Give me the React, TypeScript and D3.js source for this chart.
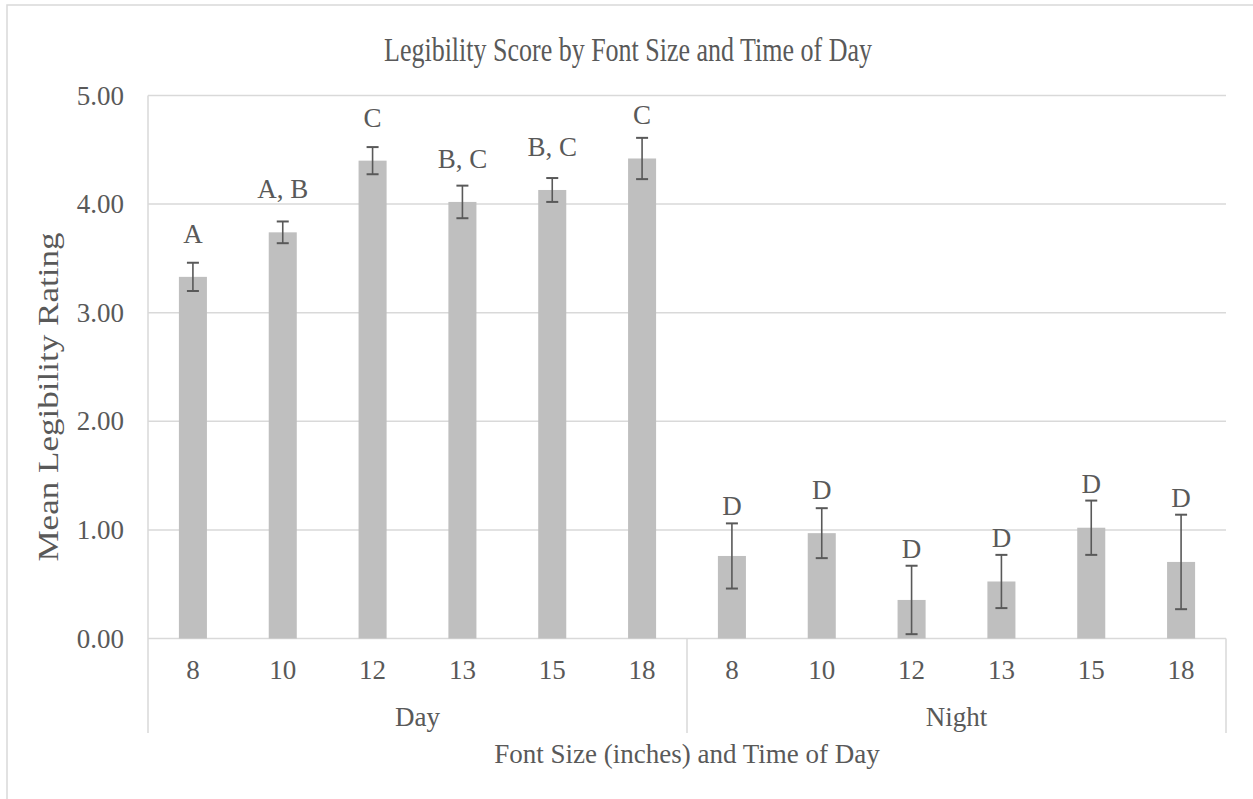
import React from "react";
import * as d3 from "d3";

// Mean legibility rating per font size, split by time of day
const timesOfDay = ["Day", "Night"];
const fontSizes = ["8", "10", "12", "13", "15", "18"];
const dayMeans = [3.33, 3.74, 4.4, 4.02, 4.13, 4.42];
const dayErrors = [0.13, 0.1, 0.125, 0.15, 0.11, 0.19];
const nightMeans = [0.76, 0.97, 0.355, 0.525, 1.02, 0.705];
const nightErrors = [0.3, 0.23, 0.315, 0.245, 0.25, 0.435];
const dayLetters = ["A", "A, B", "C", "B, C", "B, C", "C"];
const nightLetters = ["D", "D", "D", "D", "D", "D"];
const yTicks = [0, 1, 2, 3, 4, 5];

const W = 1253;
const H = 799;
const plot = { left: 148, right: 1226, top: 95.5, bottom: 638.5 };
const axisBottom = 733;

const FONT = "'Liberation Serif', 'Times New Roman', serif";
const TEXT = "#595959";
const GRID = "#d9d9d9";
const BAR = "#bfbfbf";
const ERR = "#595959";

type Row = { key: string; group: string; size: string; mean: number; err: number; letter: string };

const rows: Row[] = [];
timesOfDay.forEach((g, gi) => {
  const means = gi === 0 ? dayMeans : nightMeans;
  const errs = gi === 0 ? dayErrors : nightErrors;
  const letters = gi === 0 ? dayLetters : nightLetters;
  fontSizes.forEach((s, i) => {
    rows.push({ key: `${g}-${s}`, group: g, size: s, mean: means[i], err: errs[i], letter: letters[i] });
  });
});

export default function App() {
  const x = d3
    .scaleBand<string>()
    .domain(rows.map((r) => r.key))
    .range([plot.left, plot.right])
    .paddingInner(0.688)
    .paddingOuter(0.344);
  const y = d3.scaleLinear().domain([0, 5]).range([plot.bottom, plot.top]);
  const fmt = d3.format(".2f");
  const bw = x.bandwidth();
  const step = x.step();
  const groupWidth = step * fontSizes.length;

  return (
    <svg
      width={W}
      height={H}
      style={{ position: "absolute", left: 0, top: 0, background: "#fff" }}
      fontFamily={FONT}
    >
      <rect x={7} y={5} width={1260} height={810} fill="#fff" stroke={GRID} strokeWidth={1.5} />

      <text
        transform="translate(628, 61) scale(1, 1.27)"
        textAnchor="middle"
        fontSize={26}
        fill={TEXT}
      >
        Legibility Score by Font Size and Time of Day
      </text>

      {/* gridlines and value axis labels */}
      {yTicks.map((t) => (
        <g key={t}>
          <line x1={plot.left} x2={plot.right} y1={y(t)} y2={y(t)} stroke={GRID} strokeWidth={1.5} />
          <text x={124} y={y(t) + 9} textAnchor="end" fontSize={27} fill={TEXT}>
            {fmt(t)}
          </text>
        </g>
      ))}

      {/* left axis line and group separators */}
      <line x1={plot.left} x2={plot.left} y1={plot.top} y2={axisBottom} stroke={GRID} strokeWidth={1.5} />
      {timesOfDay.map((g, gi) => {
        const xr = plot.left + groupWidth * (gi + 1);
        return (
          <g key={g}>
            <line x1={xr} x2={xr} y1={plot.bottom} y2={axisBottom} stroke={GRID} strokeWidth={1.5} />
            <text
              x={plot.left + groupWidth * (gi + 0.5)}
              y={726}
              textAnchor="middle"
              fontSize={27}
              fill={TEXT}
            >
              {g}
            </text>
          </g>
        );
      })}

      {/* bars, error bars and letter groupings */}
      {rows.map((r) => {
        const cx = (x(r.key) as number) + bw / 2;
        const yTop = y(r.mean);
        const yHi = y(r.mean + r.err);
        const yLo = y(r.mean - r.err);
        const labelY = Math.min(yTop - 34, yHi - 8);
        return (
          <g key={r.key}>
            <rect x={x(r.key)} y={yTop} width={bw} height={plot.bottom - yTop} fill={BAR} />
            <line x1={cx} x2={cx} y1={yHi} y2={yLo} stroke={ERR} strokeWidth={1.6} />
            <line x1={cx - 6} x2={cx + 6} y1={yHi} y2={yHi} stroke={ERR} strokeWidth={2} />
            <line x1={cx - 6} x2={cx + 6} y1={yLo} y2={yLo} stroke={ERR} strokeWidth={2} />
            <text x={cx} y={labelY} textAnchor="middle" fontSize={27} fill={TEXT}>
              {r.letter}
            </text>
            <text x={cx} y={679} textAnchor="middle" fontSize={27} fill={TEXT}>
              {r.size}
            </text>
          </g>
        );
      })}

      <text
        transform="translate(58, 397) rotate(-90) scale(1.17, 1)"
        textAnchor="middle"
        fontSize={30}
        fill={TEXT}
      >
        Mean Legibility Rating
      </text>

      <text x={(plot.left + plot.right) / 2} y={763} textAnchor="middle" fontSize={27} fill={TEXT}>
        Font Size (inches) and Time of Day
      </text>
    </svg>
  );
}
